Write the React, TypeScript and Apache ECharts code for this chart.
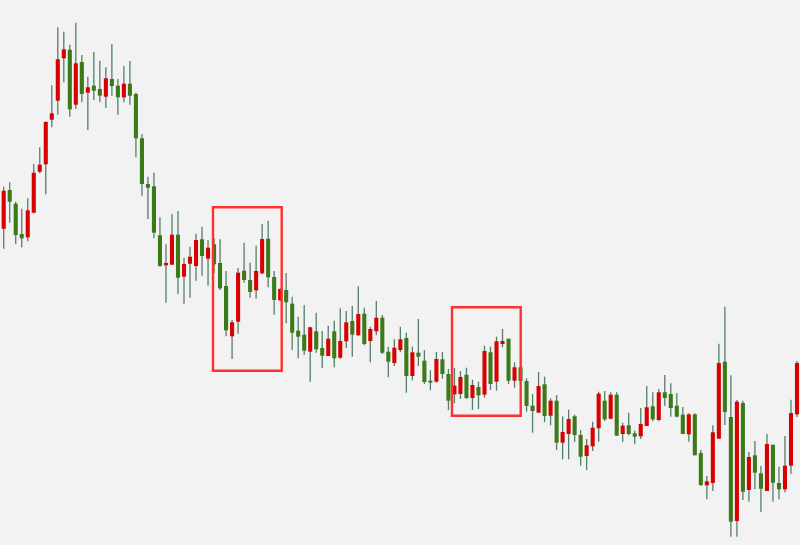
import React, { useEffect, useRef } from "react";
import * as echarts from "echarts";

// Candles (arbitrary price units, 0 = bottom edge)
const opens = [
  316.3, 355, 341.3, 311, 307.7, 332.3, 373.3, 380.7, 425.3, 444.3,
  486.7, 495.3, 440.3, 483, 452.3, 459.3, 456, 448.3, 466, 459.3,
  447.7, 461.3, 451, 406.7, 361, 358.7, 309.7, 279.7, 280.3, 310.3,
  268.3, 281.3, 279, 305.7, 286.3, 300.7, 282, 259, 208.7, 223.3,
  274.3, 265, 254.7, 271.7, 306.3, 268, 244.7, 255, 241.3, 214.3,
  210.3, 193.3, 213.7, 197, 189, 213.7, 187.3, 203.7, 224, 209.7,
  231.3, 204, 213.7, 227.3, 193.3, 182, 195, 207, 169, 192.3,
  184.3, 164.3, 163.3, 185.7, 171, 150.7, 151, 170.3, 147, 158,
  150.3, 192.7, 163.3, 201, 206.3, 164.3, 177.7, 164, 139.3, 132.3,
  160.7, 129.3, 144.3, 102.3, 111, 128.7, 110, 89, 98.7, 116.7,
  144.3, 126.3, 150.3, 111, 119.7, 111.7, 108.7, 119, 138.7, 125,
  152.7, 151, 139.3, 130.3, 110.7, 130.7, 92, 59.7, 62, 106.3,
  183.3, 128, 24, 142, 55, 89.7, 71.7, 54, 100.3, 62,
  55.7, 79.3, 130.7,
];
const closes = [
  354.3, 343.3, 310, 306.7, 334.7, 372.3, 380.3, 423, 431.7, 485.7,
  495.7, 435.7, 481.7, 451, 457.7, 454.3, 449.3, 466.7, 459, 447.7,
  461.3, 449.3, 406.7, 361, 357.3, 312.3, 279, 282, 310.3, 267.3,
  281, 288.3, 305, 289, 297.3, 280.7, 256.7, 214.7, 222.7, 272.3,
  265, 253, 274, 306, 267.7, 245, 256, 242.7, 212.3, 208.3,
  194.3, 217.7, 195.7, 189.3, 206.3, 186.7, 204, 222.7, 210.3, 231,
  201, 216, 227.3, 192.3, 183.3, 197.3, 205.7, 169, 192.7, 188.3,
  163, 162.3, 186, 171, 144.3, 159.3, 168, 147, 160, 149.7,
  194, 161, 203.7, 204, 164.3, 177.7, 164, 139, 134, 159,
  129, 144.3, 102.3, 113, 126, 110, 88.3, 99.7, 117.3, 151.3,
  125.7, 150.3, 109.3, 119.3, 111, 108.3, 121, 137.7, 125.7, 152.7,
  147, 137, 128.3, 111, 130.7, 89.7, 60, 63.7, 112.7, 182,
  133, 23.3, 143.3, 53.3, 88, 72.3, 56.3, 101, 62.3, 55.7,
  79.3, 132, 182,
];
const lows = [
  296.3, 322.3, 301, 297.7, 303.7, 331.7, 371.7, 350.7, 417.7, 430.3,
  462.7, 428.3, 436, 442.7, 415, 445, 442.7, 437, 449.3, 430.3,
  442.7, 440.3, 387.7, 349.3, 326, 306.7, 278.3, 242.3, 280.3, 251,
  241.3, 247.3, 264.3, 269.3, 259.3, 271.7, 255, 208.7, 186, 211.3,
  262.3, 247.3, 246.3, 270.7, 257.7, 230.3, 244, 221.7, 195, 186.7,
  190.3, 163.3, 192.3, 177, 189, 177.7, 186, 197, 188.3, 209.3,
  199.7, 182.7, 209.7, 191, 167.7, 179, 192.7, 152.3, 164.7, 179,
  161, 154.7, 162.3, 166.3, 135, 141.7, 146, 146, 135, 136,
  147.3, 155, 154.3, 197.7, 161, 157.3, 161.7, 133.3, 112.3, 132.3,
  123, 119.7, 95, 85.7, 85.7, 103, 79.3, 75, 94, 103.3,
  124, 125.7, 109.3, 103, 109.7, 100.7, 106, 119, 123.7, 123.7,
  139, 128.3, 127.7, 111, 103.3, 89.7, 59, 45.7, 54, 106.3,
  120, 8.3, 8.3, 45, 43.3, 55.7, 33, 54, 43.3, 45.7,
  52.7, 71.3, 128,
];
const highs = [
  358.3, 362.7, 343.3, 336.3, 346.7, 381, 397.7, 423.7, 459.7, 517.7,
  513.3, 500.3, 522.3, 490, 468.3, 493, 484.3, 477.7, 501, 466,
  479, 484, 452.3, 410.7, 368.3, 372.3, 327.7, 300.7, 331, 334,
  287, 298.3, 311.3, 318.3, 305, 306.7, 305.7, 274, 225, 277,
  302.3, 282.3, 299.3, 321, 324.3, 274, 256.7, 272, 248.3, 228.3,
  240, 218.3, 232.3, 214, 219.3, 224.3, 236.7, 234, 239, 258.7,
  237.3, 218.3, 244, 230, 198.3, 205.7, 218.3, 212.3, 198.3, 226,
  195, 174.7, 193, 193, 176, 177, 174, 177.3, 165.3, 163.3,
  199.3, 198.3, 208.3, 216, 206.3, 182.7, 182.3, 166.7, 151, 173,
  168.3, 146.7, 150, 128.7, 135.3, 130.3, 115, 106, 123.3, 153.3,
  154, 152.7, 152.7, 122.3, 132.3, 114.3, 137, 159, 152.7, 156,
  170, 161.7, 152, 138, 131.7, 131.7, 95, 69, 119.7, 201.3,
  238.3, 169.7, 145, 144.3, 93, 104, 79, 111, 100.3, 78.3,
  109, 145.3, 184,
];
const categories = opens.map((_, i) => String(i + 1));

// Highlight boxes (pixel frames drawn over the chart)
const boxes = [
  { x: 213, y: 207.3, w: 68.7, h: 163.4 },
  { x: 452, y: 307.2, w: 68.7, h: 108.6 },
];

const UP = "#d80000";
const DOWN = "#3a7a1a";
const WICK = "#537e6a";

export default function App() {
  const ref = useRef<HTMLDivElement>(null);
  useEffect(() => {
    document.body.style.margin = "0";
    const chart = echarts.init(ref.current!, null, { renderer: "svg" });
    const data = opens.map((o, i) => [i, o, closes[i], lows[i], highs[i]]);
    chart.setOption({
      animation: false,
      backgroundColor: "#f2f2f2",
      grid: { left: 0.7, right: -2.7, top: 0, bottom: 0, containLabel: false },
      xAxis: {
        type: "category",
        data: categories,
        boundaryGap: true,
        show: false,
      },
      yAxis: { type: "value", min: 0, max: 545, show: false },
      series: [
        {
          type: "custom",
          data,
          encode: { x: 0, y: [1, 2, 3, 4] },
          clip: false,
          renderItem: (params: any, api: any) => {
            const x = api.value(0);
            const o = api.value(1);
            const c = api.value(2);
            const l = api.value(3);
            const h = api.value(4);
            const pO = api.coord([x, o]);
            const pC = api.coord([x, c]);
            const pL = api.coord([x, l]);
            const pH = api.coord([x, h]);
            const w = api.size([1, 0])[0] * 0.68;
            const top = Math.min(pO[1], pC[1]);
            const hgt = Math.max(Math.abs(pO[1] - pC[1]), 1.2);
            return {
              type: "group",
              children: [
                {
                  type: "line",
                  shape: { x1: pL[0], y1: pL[1], x2: pH[0], y2: pH[1] },
                  style: { stroke: WICK, lineWidth: 1.3 },
                },
                {
                  type: "rect",
                  shape: { x: pO[0] - w / 2, y: top, width: w, height: hgt },
                  style: { fill: c >= o ? UP : DOWN },
                },
              ],
            };
          },
        },
      ],
      graphic: boxes.map((b) => ({
        type: "rect",
        shape: { x: b.x, y: b.y, width: b.w, height: b.h },
        style: { fill: "none", stroke: "#ff3030", lineWidth: 2.4 },
        z: 100,
      })),
    });
    return () => chart.dispose();
  }, []);
  return (
    <div
      ref={ref}
      style={{ position: "fixed", left: 0, top: 0, width: 800, height: 545 }}
    />
  );
}
